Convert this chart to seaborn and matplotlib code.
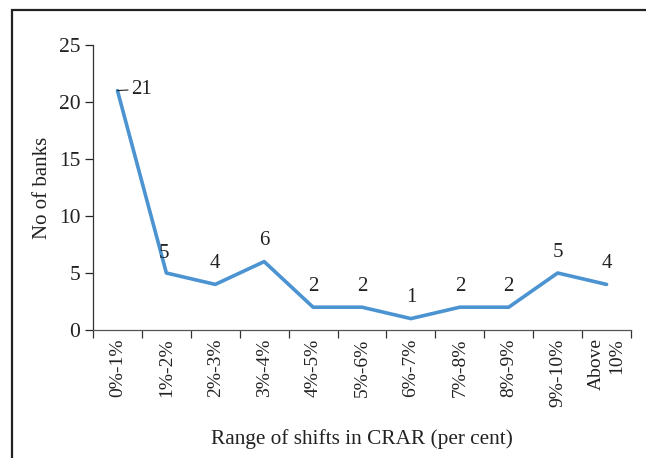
import matplotlib
matplotlib.use("Agg")
import matplotlib.pyplot as plt
import matplotlib.patches as patches
import seaborn as sns
import pandas as pd

categories = ["0%-1%", "1%-2%", "2%-3%", "3%-4%", "4%-5%", "5%-6%",
              "6%-7%", "7%-8%", "8%-9%", "9%-10%", "Above\n10%"]
banks = [21, 5, 4, 6, 2, 2, 1, 2, 2, 5, 4]

sns.set_style("ticks")
plt.rcParams['font.family'] = ['Liberation Serif', 'DejaVu Serif']

df = pd.DataFrame({"range": categories, "banks": banks})

fig = plt.figure(figsize=(6.46, 4.58), dpi=100)
ax = fig.add_axes([93 / 646, 128 / 458, 538 / 646, 285 / 458])

sns.lineplot(data=df, x="range", y="banks", sort=False, color="#4b93d1",
             linewidth=2.6, ax=ax)

ax.set_xlim(-0.5, len(categories) - 0.5)
ax.set_ylim(0, 25)
ax.set_yticks(range(0, 26, 5))
ax.set_xticks(range(len(categories)))
ax.set_xticklabels(categories, rotation=90, fontsize=14, color="#222222")
ax.set_xticks([i - 0.5 for i in range(len(categories) + 1)], minor=True)
ax.tick_params(axis="x", which="major", length=0, pad=6)
ax.tick_params(axis="x", which="minor", length=6, width=0.9, direction="out", color="#333333")
ax.tick_params(axis="y", length=6, width=0.9, labelsize=15.5, labelcolor="#222222", pad=3)
for lab in ax.get_xticklabels():
    lab.set_multialignment("right")

sns.despine(ax=ax)
ax.spines["left"].set_color("#333333")
ax.spines["bottom"].set_color("#555555")
ax.spines["left"].set_linewidth(0.9)
ax.spines["bottom"].set_linewidth(0.9)

ax.set_xlabel("Range of shifts in CRAR (per cent)", fontsize=15.3, labelpad=16, color="#222222")
ax.set_ylabel("No of banks", fontsize=15, labelpad=5, color="#222222")

# value labels
for i, v in enumerate(banks):
    if i == 0:
        ax.annotate(str(v), xy=(i, v), xytext=(10, 1), textcoords="offset points",
                    fontsize=15, ha="left", va="center", color="#222222",
                    arrowprops=dict(arrowstyle="-", color="#222222", lw=0.8, shrinkA=0, shrinkB=0))
    elif i == 1:
        ax.annotate(str(v), xy=(i, v), xytext=(-2, 14), textcoords="offset points",
                    fontsize=15, ha="center", va="center", color="#222222")
    else:
        ax.annotate(str(v), xy=(i, v), xytext=(0, 15), textcoords="offset points",
                    fontsize=15, ha="center", va="center", color="#222222")

frame = patches.Rectangle((12 / 646, -0.1), 1.0, 1.1 - 10 / 458, transform=fig.transFigure,
                          fill=False, edgecolor="#222222", linewidth=1.6, clip_on=False)
fig.patches.append(frame)

fig.savefig("out.png", dpi=100)
